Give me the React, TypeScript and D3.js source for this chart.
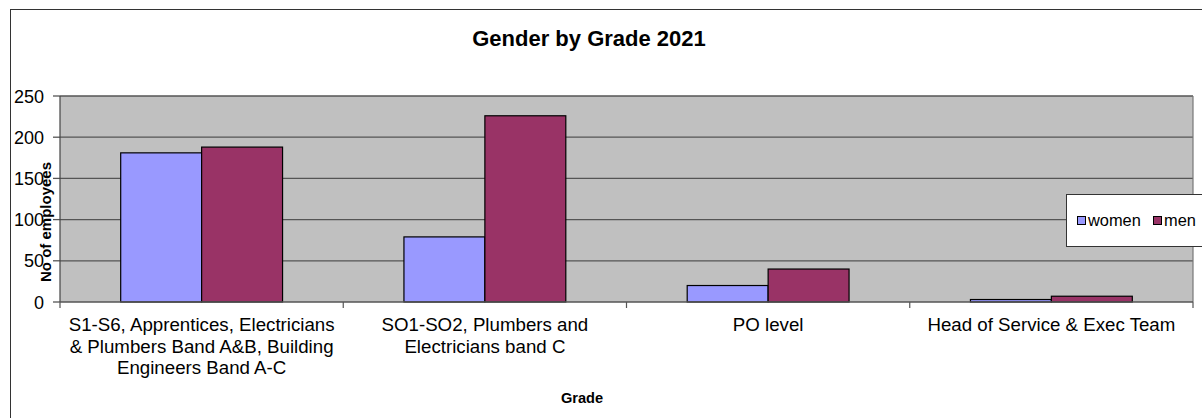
import React from "react";
import * as d3 from "d3";

const categories: string[][] = [
  ["S1-S6, Apprentices, Electricians", "& Plumbers Band A&B, Building", "Engineers Band A-C"],
  ["SO1-SO2, Plumbers and", "Electricians band C"],
  ["PO level"],
  ["Head of Service & Exec Team"],
];
const seriesNames = ["women", "men"];
const women = [181, 79, 20, 3];
const men = [188, 226, 40, 7];
const yTicks = [0, 50, 100, 150, 200, 250];
const colors = ["#9999FF", "#993366"];

const W = 1202;
const H = 418;
const plot = { left: 60, right: 1193, top: 96, bottom: 302 };
const FONT = "'Liberation Sans', Arial, sans-serif";

export default function App() {
  const catIdx = categories.map((_, i) => String(i));
  const x = d3.scaleBand<string>().domain(catIdx).range([plot.left, plot.right]).padding(0);
  const bw = x.bandwidth();
  const groupOffset = (bw * 0.75) / 3.5;
  const xs = d3.scaleBand<string>().domain(seriesNames).range([0, (bw * 2) / 3.5]).padding(0);
  const y = d3.scaleLinear().domain([0, 250]).range([plot.bottom, plot.top]);
  const values = [women, men];

  return (
    <svg
      width={W}
      height={H}
      style={{ position: "absolute", left: 0, top: 0, fontFamily: FONT }}
    >
      <rect x={0} y={0} width={W} height={H} fill="#fff" />
      <rect x={10.5} y={9.5} width={W + 20} height={H + 20} fill="#fff" stroke="#333" strokeWidth={1} />
      <text x={589} y={46} textAnchor="middle" fontSize={22} fontWeight="bold" fill="#000">
        Gender by Grade 2021
      </text>
      <rect
        x={plot.left}
        y={plot.top}
        width={plot.right - plot.left}
        height={plot.bottom - plot.top}
        fill="#C0C0C0"
      />
      {yTicks.map((t) => (
        <g key={t}>
          {t > 0 && (
            <line x1={plot.left} x2={plot.right} y1={y(t)} y2={y(t)} stroke="#555" strokeWidth={1.3} />
          )}
          <line x1={plot.left - 7} x2={plot.left} y1={y(t)} y2={y(t)} stroke="#555" strokeWidth={1.3} />
          <text x={44} y={y(t) + 6.5} textAnchor="end" fontSize={18} fill="#000">
            {t}
          </text>
        </g>
      ))}
      <line x1={plot.right} x2={plot.right} y1={plot.top} y2={plot.bottom} stroke="#777" strokeWidth={1.2} />
      {catIdx.map((c, i) =>
        seriesNames.map((s, j) => {
          const x0 = (x(c) as number) + groupOffset + (xs(s) as number);
          const v = values[j][i];
          return (
            <rect
              key={c + s}
              x={x0}
              y={y(v)}
              width={xs.bandwidth()}
              height={y(0) - y(v)}
              fill={colors[j]}
              stroke="#000"
              strokeWidth={1.2}
            />
          );
        })
      )}
      <line x1={plot.left} x2={plot.left} y1={plot.top} y2={plot.bottom} stroke="#444" strokeWidth={1.2} />
      <line x1={plot.left} x2={plot.right} y1={plot.bottom} y2={plot.bottom} stroke="#555" strokeWidth={1.3} />
      {[...catIdx.map((c) => x(c) as number), plot.right].map((xx, i) => (
        <line key={i} x1={xx} x2={xx} y1={plot.bottom} y2={plot.bottom + 6} stroke="#555" strokeWidth={1.2} />
      ))}
      {categories.map((lines, i) => (
        <text
          key={i}
          x={(x(String(i)) as number) + bw / 2}
          y={331}
          textAnchor="middle"
          fontSize={18.7}
          fill="#000"
        >
          {lines.map((l, k) => (
            <tspan key={k} x={(x(String(i)) as number) + bw / 2} dy={k === 0 ? 0 : 21.7}>
              {l}
            </tspan>
          ))}
        </text>
      ))}
      <text x={582} y={403} textAnchor="middle" fontSize={14.6} fontWeight="bold" fill="#000">
        Grade
      </text>
      <text
        transform={`translate(51,222) rotate(-90)`}
        textAnchor="middle"
        fontSize={15}
        fontWeight="bold"
        fill="#000"
      >
        No of employees
      </text>
      <g>
        <rect x={1066.5} y={194.5} width={160} height={52} fill="#fff" stroke="#333" strokeWidth={1} />
        {seriesNames.map((s, j) => {
          const lx = j === 0 ? 1077 : 1153;
          return (
            <g key={s}>
              <rect x={lx + 0.5} y={216.5} width={8} height={8} fill={colors[j]} stroke="#000" strokeWidth={1} />
              <text x={lx + 11} y={226} fontSize={16.4} fill="#000">
                {s}
              </text>
            </g>
          );
        })}
      </g>
    </svg>
  );
}
